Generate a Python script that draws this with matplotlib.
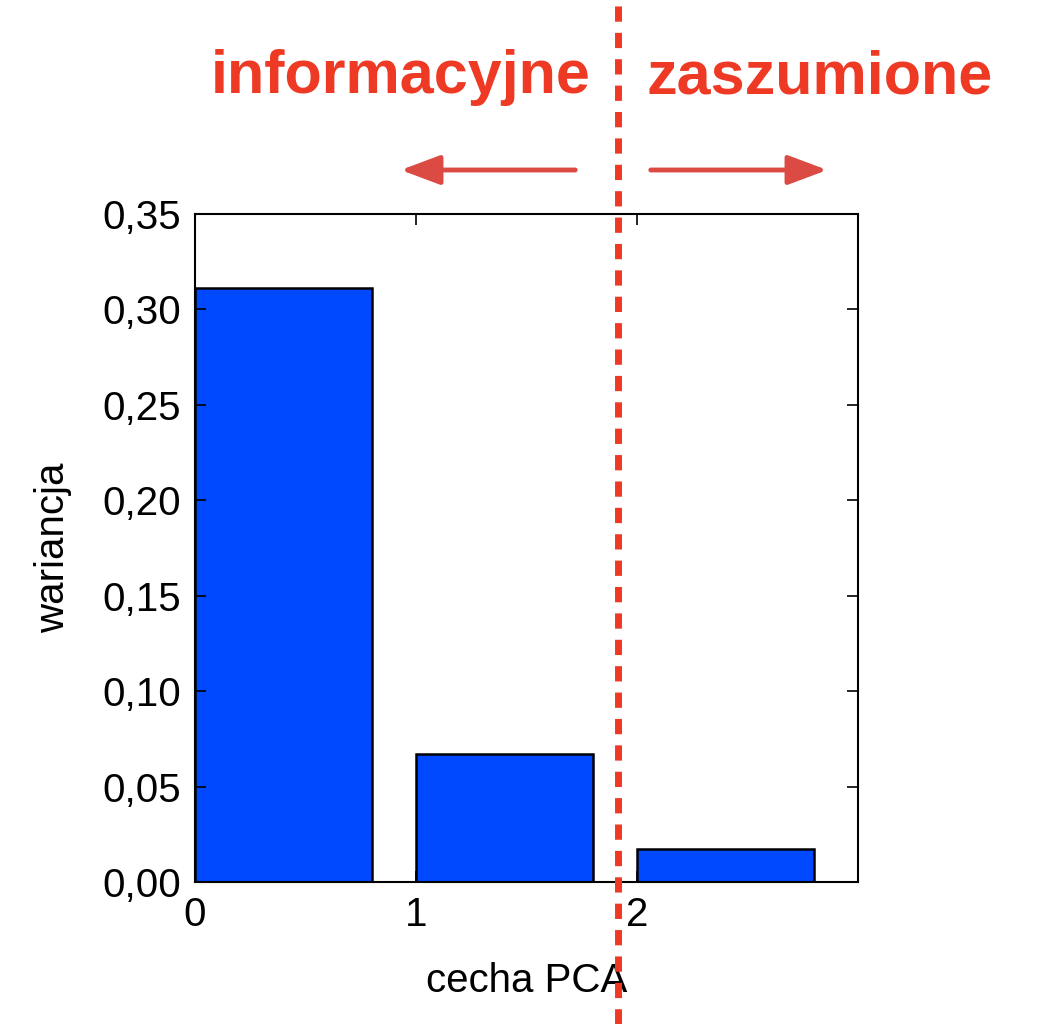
import matplotlib
matplotlib.use("Agg")
import matplotlib.pyplot as plt
from matplotlib.lines import Line2D
from matplotlib.patches import FancyArrowPatch

plt.rcParams['font.family'] = ['Liberation Sans', 'DejaVu Sans']

features = [0, 1, 2]
variance = [0.311, 0.067, 0.0175]
yticks = [0.0, 0.05, 0.10, 0.15, 0.20, 0.25, 0.30, 0.35]
ytick_labels = ["0,00", "0,05", "0,10", "0,15", "0,20", "0,25", "0,30", "0,35"]

W, H = 1037, 1024
fig = plt.figure(figsize=(W/100, H/100), dpi=100)
ax = fig.add_axes([195/W, 1-882/H, 663/W, 668/H])
ax.bar(features, variance, width=0.8, align="edge", color="#0049ff", edgecolor="black", linewidth=1.8)
ax.set_xlim(0, 3)
ax.set_ylim(0, 0.35)
ax.set_xticks(features)
ax.set_xticklabels([str(f) for f in features])
ax.set_yticks(yticks)
ax.set_yticklabels(ytick_labels)
for s in ax.spines.values():
    s.set_linewidth(1.5)
ax.tick_params(direction="in", top=True, right=True, labelsize=29, length=8, width=1.2, pad=10)
ax.set_xlabel("cecha PCA", fontsize=29, labelpad=20)
ax.set_ylabel("wariancja", fontsize=29, labelpad=22)

red = "#ee3a24"
fig.add_artist(Line2D([618/W, 618/W], [0, 1], transform=fig.transFigure,
                      color=red, lw=5, linestyle=(0, (2.2, 1.6))))
fig.text(401/W, 1-78/H, "informacyjne", color=red, fontsize=44, fontweight="bold",
         ha="center", va="center")
fig.text(820/W, 1-78/H, "zaszumione", color=red, fontsize=44, fontweight="bold",
         ha="center", va="center")
for x0, x1 in [(578, 398), (648, 830)]:
    fig.add_artist(FancyArrowPatch((x0/W, 1-170/H), (x1/W, 1-170/H),
                                   transform=fig.transFigure, arrowstyle="-|>,head_length=1.2,head_width=0.45",
                                   mutation_scale=20, color="#dc4a44", lw=3.5))
fig.savefig("out.png", dpi=100)
